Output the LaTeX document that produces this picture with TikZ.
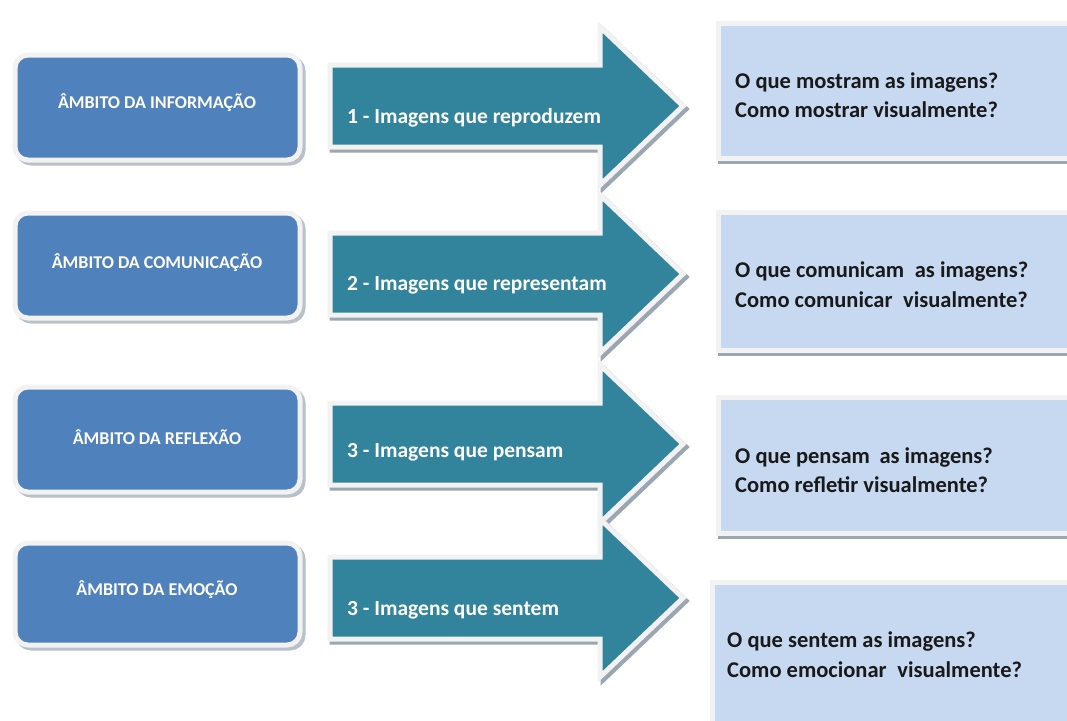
\documentclass[tikz,border=0pt]{standalone}
\usepackage{fontspec}
\setmainfont{Carlito}
\definecolor{ambito}{HTML}{4F81BD}
\definecolor{seta}{HTML}{31849B}
\definecolor{pergunta}{HTML}{C6D9F1}
\definecolor{orla}{HTML}{F2F2F2}
\definecolor{sombra}{HTML}{9AA6B2}
\begin{document}
\begin{tikzpicture}[x=1pt,y=-1pt,
  ambitobox/.style={rounded corners=13pt, fill=ambito, draw=orla, line width=5pt},
  ambitosh/.style={rounded corners=13pt, fill=sombra!70, draw=sombra!70, line width=5pt},
  ambitotext/.style={font=\bfseries\fontsize{18}{21}\selectfont, text=white, inner sep=0pt},
  setashape/.style={fill=seta, draw=orla, line width=5pt, line join=miter},
  setash/.style={fill=sombra, draw=sombra, line width=5pt},
  setatext/.style={font=\bfseries\fontsize{21.5}{25}\selectfont, text=white, anchor=west, inner sep=0pt},
  pergbox/.style={fill=pergunta, draw=orla, line width=5pt},
  pergsh/.style={fill=sombra, draw=sombra, line width=5pt},
  pergtext/.style={font=\bfseries\fontsize{22.5}{29.5}\selectfont, text=black!90, anchor=west, align=left, inner sep=0pt}]
\useasboundingbox (0,0) rectangle (1067,720);
\fill[white] (0,0) rectangle (1067,720);

% left boxes
\foreach \t/\b in {55/160, 213/318, 387/492, 543/645}{
  \draw[ambitosh] (18,\t+3) rectangle (303,\b+3);
  \draw[ambitobox] (15,\t) rectangle (300,\b);
}
\node[ambitotext] (a1) at (157,103) {ÂMBITO DA INFORMAÇÃO};
\node[ambitotext] (a2) at (157,263) {ÂMBITO DA COMUNICAÇÃO};
\node[ambitotext] (a3) at (157,437) {ÂMBITO DA REFLEXÃO};
\node[ambitotext] (a4) at (157,590) {ÂMBITO DA EMOÇÃO};

% arrows
\foreach \c in {106, 274, 444, 598}{
  \draw[setash] (332,\c-41+3) -- (603,\c-41+3) -- (603,\c-79+3) -- (686,\c+3) -- (603,\c+79+3) -- (603,\c+41+3) -- (332,\c+41+3) -- cycle;
  \draw[setashape] (330,\c-41) -- (600,\c-41) -- (600,\c-79) -- (683,\c) -- (600,\c+79) -- (600,\c+41) -- (330,\c+41) -- cycle;
}
\node[setatext] (s1) at (347,118) {1 - Imagens que reproduzem};
\node[setatext] (s2) at (347,285) {2 - Imagens que representam};
\node[setatext] (s3) at (347,452) {3 - Imagens que pensam};
\node[setatext] (s4) at (347,610) {3 - Imagens que sentem};

% right boxes
\draw[pergsh] (720,26) rectangle (1075,161);
\draw[pergbox] (718,23) rectangle (1075,158);
\draw[pergsh] (720,215) rectangle (1075,353);
\draw[pergbox] (718,212) rectangle (1075,350);
\draw[pergsh] (720,400) rectangle (1075,536);
\draw[pergbox] (718,397) rectangle (1075,533);
\draw[pergbox] (712,582) rectangle (1075,725);
\node[pergtext] (p1) at (735,95) {O que mostram as imagens?\\Como mostrar visualmente?};
\node[pergtext] (p2) at (735,284.5) {O que comunicam\hspace{0.25em} as imagens?\\Como comunicar\hspace{0.25em} visualmente?};
\node[pergtext] (p3) at (735,470) {O que pensam\hspace{0.2em} as imagens?\\Como refletir visualmente?};
\node[pergtext] (p4) at (727,654.5) {O que sentem as imagens?\\Como emocionar\hspace{0.25em} visualmente?};
\end{tikzpicture}
\end{document}
